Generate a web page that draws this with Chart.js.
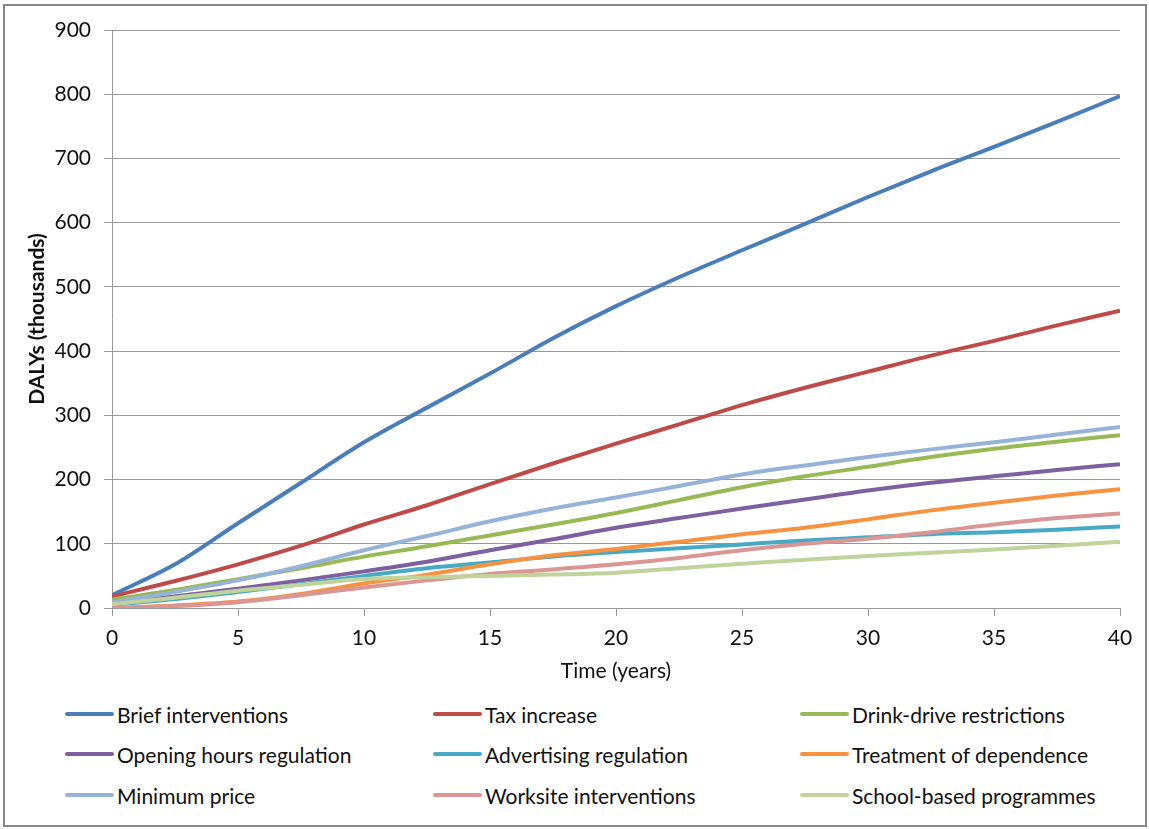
<!DOCTYPE html>
<html>
<head>
<meta charset="utf-8">
<script src="https://cdn.jsdelivr.net/npm/chart.js@4"></script>
<style>
  body { margin: 0; background: #fff; }
  #wrap { position: relative; width: 1149px; height: 829px; font-family: Lato, sans-serif; }
  #frame { position: absolute; left: 3px; top: 4px; width: 1144px; height: 823px; border: 2px solid #888; box-sizing: border-box; }
  #chart { position: absolute; left: 0; top: 0; }
  .item { position: absolute; height: 26px; display: flex; align-items: center; font-size: 21px; color: #111; white-space: nowrap; }
  .swatch { width: 49px; height: 4px; margin-right: 3px; border-radius: 2px; }
</style>
</head>
<body>
<div id="wrap">
  <div id="frame"></div>
  <canvas id="chart" width="1149" height="690"></canvas>
  <div id="legend"></div>
</div>
<script>
// years sampled along the x axis
const years = [0, 2.5, 5, 7.5, 10, 12.5, 15, 17.5, 20, 22.5, 25, 27.5, 30, 32.5, 35, 37.5, 40];

const briefInterventions = [20, 68, 132, 195, 258, 312, 365, 420, 470, 515, 557, 598, 640, 680, 718, 757, 797];
const taxIncrease        = [18, 42, 68, 97, 130, 160, 193, 225, 256, 286, 316, 343, 368, 393, 416, 440, 463];
const drinkDrive         = [13, 28, 45, 62, 80, 96, 113, 130, 148, 168, 188, 205, 220, 235, 248, 259, 269];
const openingHours       = [9, 18, 30, 43, 57, 72, 90, 107, 125, 140, 155, 169, 183, 195, 205, 215, 224];
const advertising        = [5, 14, 25, 37, 50, 62, 71, 80, 87, 93, 99, 105, 110, 115, 118, 122, 127];
const treatment          = [0, 4, 10, 22, 38, 52, 68, 82, 92, 103, 115, 125, 138, 152, 164, 175, 185];
const minimumPrice       = [9, 25, 43, 65, 90, 112, 135, 155, 172, 190, 208, 222, 235, 247, 258, 270, 282];
const worksite           = [0, 3, 9, 20, 32, 43, 53, 60, 68, 78, 90, 100, 108, 118, 130, 140, 147];
const schoolBased        = [6, 16, 27, 36, 45, 48, 50, 52, 55, 62, 69, 75, 81, 86, 91, 97, 103];

const seriesNames = ['Brief interventions', 'Tax increase', 'Drink-drive restrictions',
  'Opening hours regulation', 'Advertising regulation', 'Treatment of dependence',
  'Minimum price', 'Worksite interventions', 'School-based programmes'];
const seriesValues = [briefInterventions, taxIncrease, drinkDrive, openingHours, advertising,
  treatment, minimumPrice, worksite, schoolBased];
const seriesColors = ['#4a7ebb', '#be4b48', '#98b954', '#7d60a0', '#46aac5',
  '#f69240', '#95b3d7', '#d99694', '#bfd39b'];

const yTicks = [0, 100, 200, 300, 400, 500, 600, 700, 800, 900];
const xTicks = [0, 5, 10, 15, 20, 25, 30, 35, 40];

const gridColor = '#999';
const font = { family: 'Lato', size: 21 };

const datasets = seriesNames.map((name, i) => ({
  label: name,
  data: years.map((x, j) => ({ x: x, y: seriesValues[i][j] })),
  borderColor: seriesColors[i],
  backgroundColor: seriesColors[i],
  borderWidth: 4,
  pointRadius: 0,
  cubicInterpolationMode: 'monotone',
  order: seriesNames.length - i
}));

new Chart(document.getElementById('chart'), {
  type: 'line',
  data: { datasets: datasets },
  options: {
    responsive: false,
    animation: false,
    devicePixelRatio: 1,
    layout: { padding: { left: 21, right: 29, top: 30, bottom: 6 } },
    plugins: { legend: { display: false }, tooltip: { enabled: false } },
    scales: {
      x: {
        type: 'linear',
        min: 0,
        max: 40,
        afterBuildTicks: s => { s.ticks = xTicks.map(v => ({ value: v })); },
        afterFit: s => { s.height = 76; },
        ticks: { font: font, color: '#111', padding: 10, maxRotation: 0 },
        grid: { drawOnChartArea: false, color: gridColor, tickLength: 8 },
        border: { color: gridColor },
        title: { display: true, text: 'Time (years)', font: font, color: '#111', padding: { top: 0, bottom: 0 } }
      },
      y: {
        min: 0,
        max: 900,
        afterBuildTicks: s => { s.ticks = yTicks.map(v => ({ value: v })); },
        afterFit: s => { s.width = 91; },
        ticks: { font: font, color: '#111', padding: 13 },
        grid: { color: gridColor, tickLength: 8 },
        border: { color: gridColor },
        title: { display: true, text: 'DALYs (thousands)', font: { family: 'Lato', size: 21, weight: 'bold' }, color: '#111', padding: { top: 4, bottom: 0 } }
      }
    }
  }
});

// legend laid out in three columns like the original
const legendCols = [65, 433, 800];
const legendRows = [714, 754, 795];
const legend = document.getElementById('legend');
seriesNames.forEach((name, i) => {
  const item = document.createElement('div');
  item.className = 'item';
  item.style.left = legendCols[i % 3] + 'px';
  item.style.top = (legendRows[Math.floor(i / 3)] - 13) + 'px';
  const sw = document.createElement('span');
  sw.className = 'swatch';
  sw.style.background = seriesColors[i];
  item.appendChild(sw);
  item.appendChild(document.createTextNode(name));
  legend.appendChild(item);
});
</script>
</body>
</html>
